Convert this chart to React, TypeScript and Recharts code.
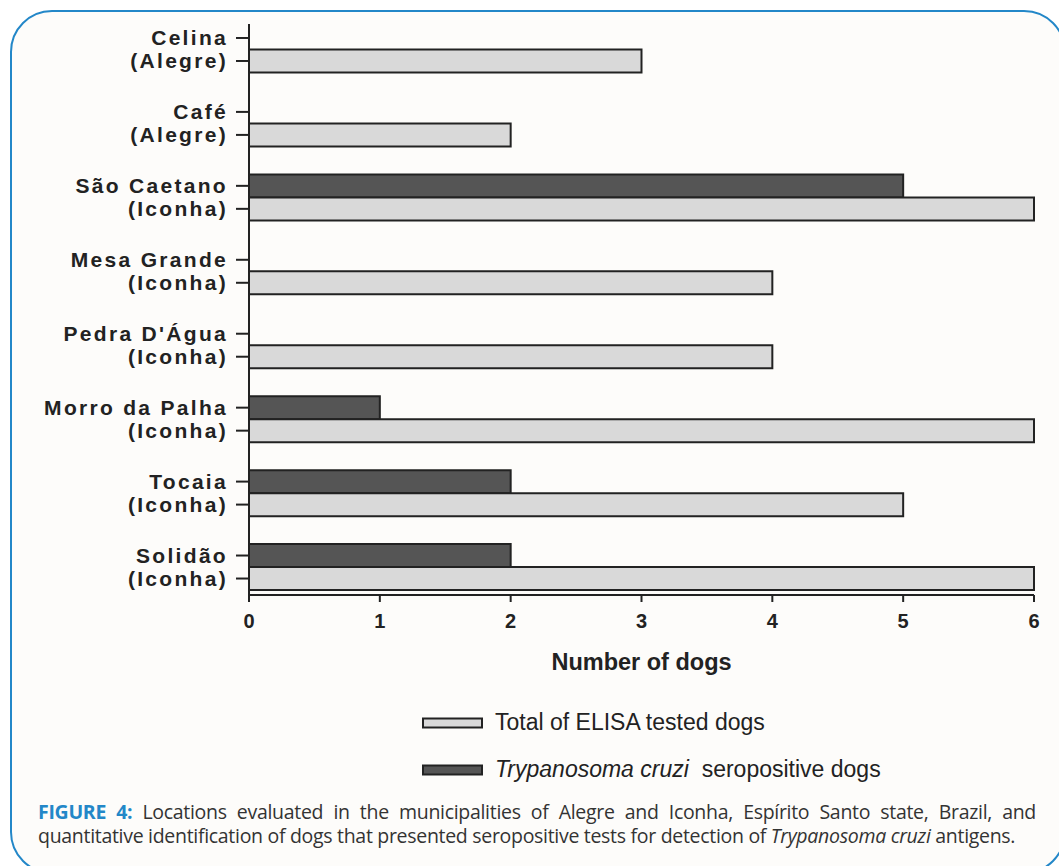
import { BarChart, Bar, XAxis, YAxis } from "recharts";

const places = [
  "Celina",
  "Café",
  "São Caetano",
  "Mesa Grande",
  "Pedra D'Água",
  "Morro da Palha",
  "Tocaia",
  "Solidão",
];
const towns = [
  "(Alegre)",
  "(Alegre)",
  "(Iconha)",
  "(Iconha)",
  "(Iconha)",
  "(Iconha)",
  "(Iconha)",
  "(Iconha)",
];
const totalTested = [3, 2, 6, 4, 4, 6, 5, 6];
const seropositive = [0, 0, 5, 0, 0, 1, 2, 2];
const xTicks = [0, 1, 2, 3, 4, 5, 6];

const data = places.map((p, i) => ({
  name: p,
  town: towns[i],
  total: totalTested[i],
  sero: seropositive[i],
}));

const INK = "#222";
const LIGHT = "#d9d9d9";
const DARK = "#555555";
const BLUE = "#2387c8";
const FONT = "'Liberation Sans', Arial, sans-serif";

function PlaceTick(props: any) {
  const { x, y, index } = props;
  const lines = [places[index], towns[index]];
  return (
    <g>
      {lines.map((t, k) => {
        const yy = y + (k === 0 ? -11.5 : 11.5);
        return (
          <g key={k}>
            <line x1={x + 10} x2={x + 23} y1={yy} y2={yy} stroke={INK} strokeWidth={2} />
            <text
              x={x + 2}
              y={yy}
              textAnchor="end"
              dominantBaseline="central"
              fontFamily={FONT}
              fontWeight="bold"
              fontSize={21}
              letterSpacing={2.3}
              fill={INK}
            >
              {t}
            </text>
          </g>
        );
      })}
    </g>
  );
}

function Swatch({ fill }: { fill: string }) {
  return (
    <svg width={62} height={12} style={{ display: "block" }}>
      <rect x={1} y={1.5} width={59} height={9} fill={fill} stroke={INK} strokeWidth={2} />
    </svg>
  );
}

export default function App() {
  const legendText: React.CSSProperties = {
    position: "absolute",
    left: 422,
    display: "flex",
    alignItems: "center",
    gap: 11,
    fontFamily: FONT,
    fontSize: 23,
    color: INK,
    whiteSpace: "nowrap",
  };
  return (
    <div
      style={{
        position: "absolute",
        left: 0,
        top: 0,
        width: 1059,
        height: 866,
        background: "#fff",
        overflow: "hidden",
      }}
    >
      <div
        style={{
          position: "absolute",
          left: 10,
          top: 10,
          width: 1052,
          height: 860,
          border: `2px solid ${BLUE}`,
          borderRadius: 42,
          background: "#fdfcfa",
        }}
      />
      <div style={{ position: "absolute", left: 0, top: 0 }}>
        <BarChart
          width={1059}
          height={700}
          data={data}
          layout="vertical"
          margin={{ top: 24, right: 25, left: 0, bottom: 0 }}
          barGap={0}
          barSize={23}
        >
          <XAxis
            type="number"
            domain={[0, 6]}
            ticks={xTicks}
            interval={0}
            height={105}
            stroke={INK}
            strokeWidth={2}
            tickSize={7}
            tickMargin={12}
            tick={{
              fill: INK,
              fontSize: 20,
              fontWeight: "bold",
              fontFamily: FONT,
            }}
            label={{
              value: "Number of dogs",
              position: "insideBottom",
              offset: 30,
              fill: INK,
              fontSize: 23.5,
              fontWeight: "bold",
              fontFamily: FONT,
            }}
          />
          <YAxis
            type="category"
            dataKey="name"
            width={249}
            stroke={INK}
            strokeWidth={2}
            tickLine={false}
            tickSize={13}
            tickMargin={10}
            interval={0}
            padding={{ top: -11.5, bottom: -9 }}
            tick={<PlaceTick />}
          />
          <Bar
            dataKey="sero"
            fill={DARK}
            stroke={INK}
            strokeWidth={2}
            isAnimationActive={false}
          />
          <Bar
            dataKey="total"
            fill={LIGHT}
            stroke={INK}
            strokeWidth={2}
            isAnimationActive={false}
          />
        </BarChart>
      </div>
      <div style={{ ...legendText, top: 709 }}>
        <Swatch fill={LIGHT} />
        <span>Total of ELISA tested dogs</span>
      </div>
      <div style={{ ...legendText, top: 756 }}>
        <Swatch fill={DARK} />
        <span>
          <i>Trypanosoma cruzi</i>&nbsp;&nbsp;seropositive dogs
        </span>
      </div>
      <div
        style={{
          position: "absolute",
          left: 38,
          top: 800,
          width: 998,
          fontFamily: "'Open Sans', sans-serif",
          fontSize: 19.5,
          lineHeight: "24px",
          color: "#333",
          textAlign: "justify",
          letterSpacing: -0.3,
        }}
      >
        <b style={{ color: BLUE }}>FIGURE 4:</b> Locations evaluated in the municipalities
        of Alegre and Iconha, Espírito Santo state, Brazil, and quantitative identification
        of dogs that presented seropositive tests for detection of <i>Trypanosoma cruzi</i>{" "}
        antigens.
      </div>
    </div>
  );
}
